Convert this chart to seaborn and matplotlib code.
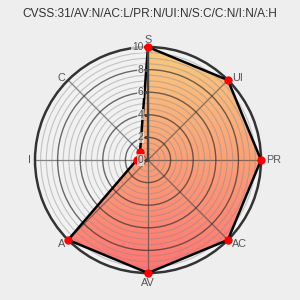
import numpy as np
import matplotlib
matplotlib.use("Agg")
import matplotlib.pyplot as plt
from matplotlib.colors import LinearSegmentedColormap
import seaborn as sns

sns.set_style("white")
plt.rcParams['font.family'] = ['Liberation Sans', 'DejaVu Sans']

title = "CVSS:31/AV:N/AC:L/PR:N/UI:N/S:C/C:N/I:N/A:H"
categories = ["S", "UI", "PR", "AC", "AV", "A", "I", "C"]
values = [10, 10, 10, 10, 10, 10, 1, 1]
r_ticks = [0, 2, 4, 6, 8, 10]
r_tick_labels = ["0", "2", "4", "6", "8", "10"]

n = len(categories)
theta = np.arange(n) * 2 * np.pi / n

fig = plt.figure(figsize=(3, 3), dpi=100, facecolor="#eeeeee")
ax = fig.add_axes([0.1167, 0.09, 0.7533, 0.7533], projection="polar")
ax.set_facecolor("#f1f1f1")
ax.set_theta_zero_location("N")
ax.set_theta_direction(-1)
ax.set_ylim(0, 10)

# grid
ax.set_xticks(theta)
ax.set_xticklabels([])
ax.set_yticks([2, 4, 6, 8])
ax.set_yticklabels([])
ax.set_yticks(np.arange(0.5, 10, 0.5), minor=True)
ax.yaxis.grid(True, which="major", color="#3a3a3a", lw=1.0, alpha=0.75)
ax.yaxis.grid(True, which="minor", color="#888888", lw=0.8, alpha=0.45)
ax.xaxis.grid(True, color="#3a3a3a", lw=0.9, alpha=0.6)
ax.tick_params(axis="y", which="both", length=0)
ax.spines["polar"].set_color("#333333")
ax.spines["polar"].set_linewidth(1.8)

# gradient fill clipped to polygon
tc = np.append(theta, theta[0])
vc = np.append(values, values[0])
poly = ax.fill(tc, vc, facecolor="none", edgecolor="none")[0]
cmap = LinearSegmentedColormap.from_list("g", ["#ff7474", "#fa9f78", "#f8ca80"])
tg = np.linspace(0, 2 * np.pi, 361)
rg = np.linspace(0, 10.2, 80)
T, R = np.meshgrid(tg, rg)
Y = R * np.cos(T)
mesh = ax.pcolormesh(T, R, Y[:-1, :-1], cmap=cmap, vmin=-10, vmax=10, shading="flat", zorder=0.5)
mesh.set_clip_path(poly)

ax.plot(tc, vc, color="black", lw=1.8, zorder=3)

# radial axis line with ticks
ax.plot([0, 0], [0, 10], color="#444444", lw=1.6, zorder=3.5)
ax.plot(np.zeros(len(r_ticks)), r_ticks, linestyle="none", marker=0, markersize=3,
        color="#444444", zorder=3.5)

ax.plot(theta, values, linestyle="none", marker="o", markersize=5,
        color="#ff0000", zorder=4, clip_on=False)

for t, lab in zip(r_ticks, r_tick_labels):
    ax.annotate(lab, xy=(0, t), xytext=(-3.5, 0), textcoords="offset points",
                ha="right", va="center", fontsize=7.4, color="#555555", zorder=6,
                annotation_clip=False,
                bbox=dict(boxstyle="square,pad=0.05", facecolor="#f1f1f1",
                          edgecolor="none", alpha=0.7))

# category labels: (dx, dy) in pixels, alignment
label_offsets = {
    "S": (0, 2, "center", "bottom"),
    "UI": (4, 2, "left", "center"),
    "PR": (5, 0, "left", "center"),
    "AC": (4, -4, "left", "center"),
    "AV": (0, -5, "center", "top"),
    "A": (-3, -4, "right", "center"),
    "I": (-4.5, 0, "right", "center"),
    "C": (-3, 2, "right", "center"),
}
for th, lab in zip(theta, categories):
    dx, dy, ha, va = label_offsets[lab]
    ax.annotate(lab, xy=(th, 10), xytext=(dx * 0.72, dy * 0.72), textcoords="offset points",
                ha=ha, va=va, fontsize=7.8, color="#555555", annotation_clip=False)

fig.text(0.5, 0.953, title, ha="center", va="center", fontsize=8.6, color="#333333")

fig.savefig("out.png", dpi=100, facecolor="#eeeeee")
